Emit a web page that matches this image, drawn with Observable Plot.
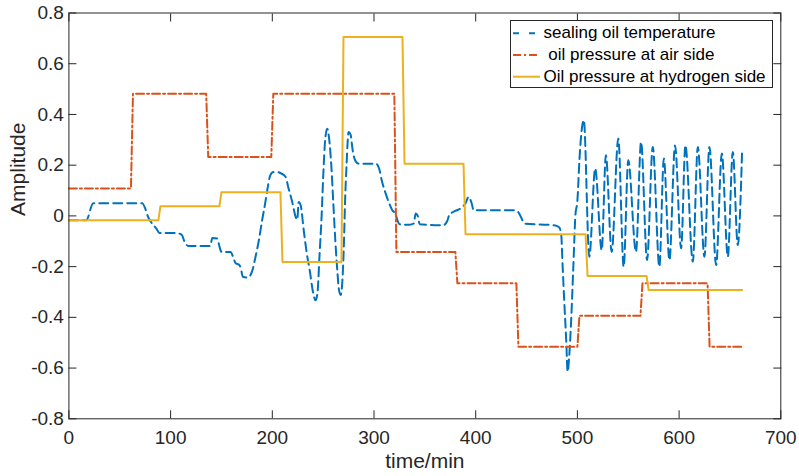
<!DOCTYPE html>
<html>
<head>
<meta charset="utf-8">
<script src="https://cdn.jsdelivr.net/npm/d3@7"></script>
<script src="https://cdn.jsdelivr.net/npm/@observablehq/plot@0.6"></script>
<style>
  body { margin: 0; background: #fff; }
  #wrap { position: relative; width: 799px; height: 476px; font-family: "Liberation Sans", Arial, sans-serif; }
  #legend { position: absolute; left: 510px; top: 20px; }
</style>
</head>
<body>
<div id="wrap"></div>
<script>
// ---- data ----
const xTicks = [0, 100, 200, 300, 400, 500, 600, 700];
const xTickLabels = ["0", "100", "200", "300", "400", "500", "600", "700"];
const yTicks = [-0.8, -0.6, -0.4, -0.2, 0, 0.2, 0.4, 0.6, 0.8];
const yTickLabels = ["-0.8", "-0.6", "-0.4", "-0.2", "0", "0.2", "0.4", "0.6", "0.8"];

const seriesNames = ["sealing oil temperature", " oil pressure at air side", "Oil pressure at hydrogen side"];
const seriesColors = ["#0072BD", "#D95319", "#EDB120"];

// sealing oil temperature
const tempTime = [0, 17, 24, 72, 75, 77, 86, 89, 105, 111, 114, 118, 139, 141, 146, 148, 150, 159, 162, 164, 167, 169, 171, 176, 180,
  183.5, 186.8, 190, 193, 195, 198, 201, 205, 209, 213, 216, 219.6, 223, 224.5, 226, 228, 231, 234, 237, 240, 242.6, 244.5, 246.5,
  248.5, 250, 252, 254, 256, 258, 260, 262, 264, 265.5, 267.2, 269, 270.5, 271.5, 273, 275, 277, 279, 282, 285, 302, 305, 308, 311.5,
  315, 318, 321, 323, 325, 335, 339, 341, 343, 345, 368, 372, 374, 380, 385, 390, 393, 396, 398, 438, 441, 444, 448, 477, 482, 484,
  485.5, 487, 489, 490.4, 492, 494, 496, 498, 500, 502, 504, 506.3,
  511.7, 517.5, 523.9, 528, 533.7, 540.2, 545.5, 550, 557.6, 562.6, 568.5, 574.1, 580.6, 585, 590.5, 596, 602, 606.2, 613.5, 618.4,
  624.9, 629.8, 636.4, 642, 647.9, 652.8, 657.7, 662];
const tempValue = [-0.017, -0.017, 0.05, 0.05, 0.03, 0.005, -0.05, -0.067, -0.067, -0.075, -0.105, -0.119, -0.119, -0.087, -0.089, -0.12, -0.142, -0.142, -0.168, -0.187, -0.192, -0.205, -0.24, -0.243, -0.22,
  -0.161, -0.096, -0.017, 0.05, 0.1, 0.16, 0.173, 0.173, 0.167, 0.154, 0.108, 0.055, -0.004, -0.015, 0.055, 0.04, -0.06, -0.15, -0.22, -0.3, -0.333, -0.3, -0.15,
  0.0, 0.15, 0.3, 0.344, 0.3, 0.2, 0.05, -0.1, -0.22, -0.29, -0.312, -0.25, -0.1, 0.05, 0.2, 0.331, 0.32, 0.26, 0.215, 0.206, 0.206, 0.187, 0.134, 0.088,
  0.049, 0.022, 0.009, -0.017, -0.033, -0.035, -0.03, 0.009, 0.0, -0.033, -0.037, -0.02, 0.003, 0.02, 0.029, 0.05, 0.075, 0.05, 0.022, 0.022, 0.018, 0.0, -0.03, -0.037, -0.045, -0.069,
  -0.2, -0.33, -0.49, -0.614, -0.55, -0.4, -0.2, 0.0, 0.06, 0.22, 0.33, 0.377,
  -0.161, 0.187, -0.135, 0.239, -0.142, 0.305, -0.2, 0.219, -0.142, 0.291, -0.174, 0.272, -0.2, 0.226, -0.174, 0.278, -0.128, 0.278, -0.181, 0.272,
  -0.161, 0.272, -0.194, 0.246, -0.161, 0.252, -0.115, 0.265];

// oil pressure at air side
const airTime = [0, 61, 63, 135, 137, 199, 201, 320, 322, 380, 382, 440, 442, 500, 502, 562, 564, 628, 630, 662];
const airValue = [0.108, 0.108, 0.482, 0.482, 0.232, 0.232, 0.482, 0.482, -0.142, -0.142, -0.266, -0.266, -0.516, -0.516, -0.394, -0.394, -0.266, -0.266, -0.516, -0.516];

// oil pressure at hydrogen side
const hydTime = [0, 88, 90, 148, 150, 208, 210, 268, 270, 328, 330, 388, 390, 508, 510, 568, 570, 662];
const hydValue = [-0.017, -0.017, 0.038, 0.038, 0.093, 0.093, -0.182, -0.182, 0.705, 0.705, 0.206, 0.206, -0.072, -0.072, -0.237, -0.237, -0.292, -0.292];

const temp = tempTime.map((t, i) => ({t, v: tempValue[i]}));
const air = airTime.map((t, i) => ({t, v: airValue[i]}));
const hyd = hydTime.map((t, i) => ({t, v: hydValue[i]}));

const ink = "#262626";
const fmtX = d => xTickLabels[xTicks.indexOf(d)];
const fmtY = d => yTickLabels[yTicks.indexOf(d)];
const blank = () => "";

const chart = Plot.plot({
  width: 799,
  height: 476,
  marginLeft: 68.4,
  marginRight: 18.7,
  marginTop: 12.5,
  marginBottom: 57.7,
  style: {fontFamily: "'Liberation Sans', Arial, sans-serif", color: ink, background: "#fff", overflow: "visible"},
  x: {domain: [0, 700]},
  y: {domain: [-0.8, 0.8]},
  marks: [
    Plot.line(temp, {x: "t", y: "v", stroke: seriesColors[0], strokeWidth: 2, strokeDasharray: "9,5", curve: "monotone-x"}),
    Plot.line(air, {x: "t", y: "v", stroke: seriesColors[1], strokeWidth: 2, strokeDasharray: "8,3,2,3"}),
    Plot.line(hyd, {x: "t", y: "v", stroke: seriesColors[2], strokeWidth: 2}),
    Plot.frame({stroke: ink, strokeWidth: 1}),
    // tick labels
    Plot.axisX({anchor: "bottom", ticks: xTicks, tickSize: 0, tickPadding: 12, tickFormat: fmtX, fontSize: 19, fill: ink, label: null}),
    Plot.axisY({anchor: "left", ticks: yTicks, tickSize: 0, tickPadding: 5, tickFormat: fmtY, fontSize: 19, fill: ink, label: null}),
    // inward ticks on all four sides
    Plot.axisX({anchor: "bottom", ticks: xTicks, tickSize: -8, tickFormat: blank, stroke: ink, label: null}),
    Plot.axisX({anchor: "top", ticks: xTicks, tickSize: -8, tickFormat: blank, stroke: ink, label: null}),
    Plot.axisY({anchor: "left", ticks: yTicks, tickSize: -8, tickFormat: blank, stroke: ink, label: null}),
    Plot.axisY({anchor: "right", ticks: yTicks, tickSize: -8, tickFormat: blank, stroke: ink, label: null}),
    // axis titles
    Plot.text(["time/min"], {text: d => d, frameAnchor: "bottom", dy: 49, lineAnchor: "bottom", fontSize: 21, fill: ink}),
    Plot.text(["Amplitude"], {text: d => d, frameAnchor: "left", dx: -58.5, rotate: -90, lineAnchor: "top", fontSize: 21, fill: ink})
  ]
});

const wrap = document.getElementById("wrap");
wrap.appendChild(chart);

// legend (inside plot area, upper right)
const ns = "http://www.w3.org/2000/svg";
const leg = document.createElementNS(ns, "svg");
leg.setAttribute("id", "legend");
leg.setAttribute("width", 264);
leg.setAttribute("height", 69);
const dashes = ["6,10", "8,3,2,3", null];
const rowY = [13.3, 35, 56.7];
const textX = [33.5, 33.5, 33.5];
let html = `<rect x="0.5" y="0.5" width="262" height="67" fill="#fff" stroke="${ink}" stroke-width="1"/>`;
seriesNames.forEach((name, i) => {
  html += `<line x1="3" x2="30" y1="${rowY[i]}" y2="${rowY[i]}" stroke="${seriesColors[i]}" stroke-width="2"${dashes[i] ? ` stroke-dasharray="${dashes[i]}"` : ""}/>`;
  html += `<text x="${textX[i]}" y="${rowY[i] + 5}" font-size="17" fill="#000" xml:space="preserve" style="white-space:pre" font-family="'Liberation Sans', Arial, sans-serif">${name}</text>`;
});
leg.innerHTML = html;
wrap.appendChild(leg);
</script>
</body>
</html>
